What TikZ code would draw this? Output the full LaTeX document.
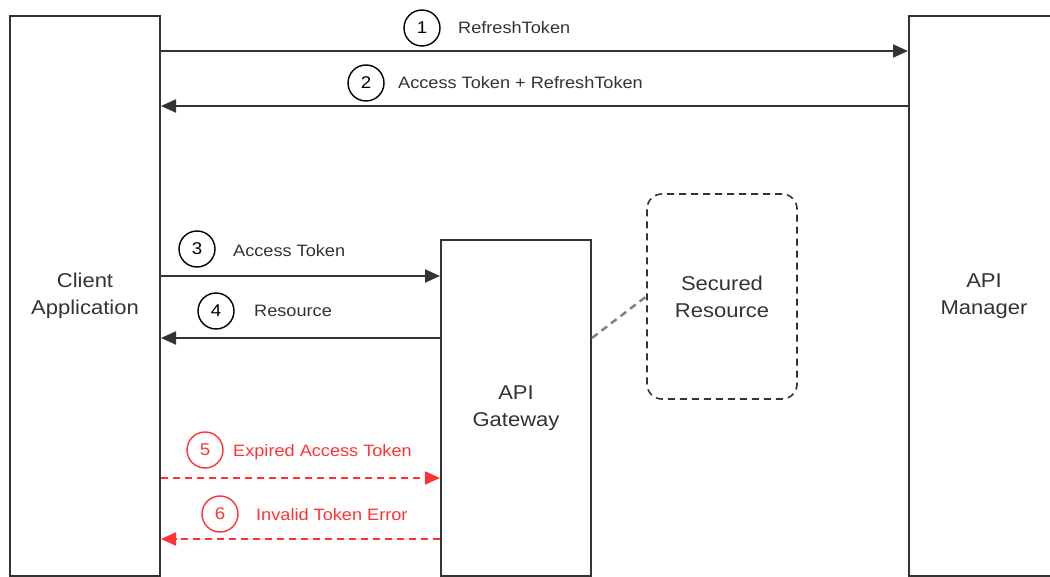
\documentclass[tikz,border=0pt]{standalone}
\usepackage{fontspec}
\setmainfont{Liberation Sans}[FakeStretch=1.1]
\usetikzlibrary{arrows.meta,positioning}
\definecolor{boxline}{HTML}{333333}
\definecolor{errred}{HTML}{FF3333}

\begin{document}
\begin{tikzpicture}[x=1pt, y=-1pt,
    box/.style = {draw=boxline, line width=2pt, minimum width=150pt, align=center, text=boxline, font=\fontsize{20}{27}\selectfont},
    num/.style = {draw, circle, line width=1.4pt, minimum size=36pt, inner sep=0pt, font=\fontsize{17}{20}\selectfont},
    lbl/.style = {anchor=west, inner sep=0pt, text=boxline, font=\fontsize{16.5}{20}\selectfont},
    msg/.style = {draw=boxline, line width=2pt, -{Triangle[length=15pt, width=13pt]}},
    err/.style = {msg, draw=errred, dash pattern=on 7pt off 5pt}]
            \useasboundingbox (0,0) rectangle (1050,577);
            \clip (0,0) rectangle (1050,577);

            %the boxes

            \node[box, minimum height=560pt] (CLIENT) at (85,296) {Client\\Application};
            \node[box, minimum height=560pt] (APIM) at (984,296) {API\\Manager};
            \node[box, minimum height=336pt] (GW) at (516,408) {API\\Gateway};
            \node[box, dash pattern=on 7pt off 5pt, line width=1.6pt, rounded corners=15pt, minimum height=205pt] (SR) at (722,296.5) {Secured\\Resource};

            \coordinate (Y1) at (0,51);
            \coordinate (Y2) at (0,106);
            \coordinate (Y3) at (0,276);
            \coordinate (Y4) at (0,338);
            \coordinate (Y5) at (0,478);
            \coordinate (Y6) at (0,539);

            %client and api manager

            \draw[msg] (CLIENT.east |- Y1) -- (APIM.west |- Y1);
            \draw[msg] (APIM.west |- Y2) -- (CLIENT.east |- Y2);
            \node[num] (N1) at (422,28) {1};
            \node[num] (N2) at (366,83) {2};
            \node[lbl] (L1) at (458,28) {RefreshToken};
            \node[lbl] (L2) at (398,83) {Access Token + RefreshToken};

            %client and gateway

            \draw[msg] (CLIENT.east |- Y3) -- (GW.west |- Y3);
            \draw[msg] (GW.west |- Y4) -- (CLIENT.east |- Y4);
            \node[num] (N3) at (197,249) {3};
            \node[num] (N4) at (216,311) {4};
            \node[lbl] (L3) at (233,251) {Access Token};
            \node[lbl] (L4) at (254,311) {Resource};
            \draw[gray, line width=2.5pt, dash pattern=on 7pt off 5pt] (GW.east |- Y4) -- (SR.west);

            %expired token

            \draw[err] (CLIENT.east |- Y5) -- (GW.west |- Y5);
            \draw[err] (GW.west |- Y6) -- (CLIENT.east |- Y6);
            \node[num, draw=errred, text=errred] (N5) at (205,450) {5};
            \node[num, draw=errred, text=errred] (N6) at (220,514) {6};
            \node[lbl, text=errred] (L5) at (233,452) {Expired Access Token};
            \node[lbl, text=errred] (L6) at (256,515) {Invalid Token Error};
        \end{tikzpicture}
\end{document}
